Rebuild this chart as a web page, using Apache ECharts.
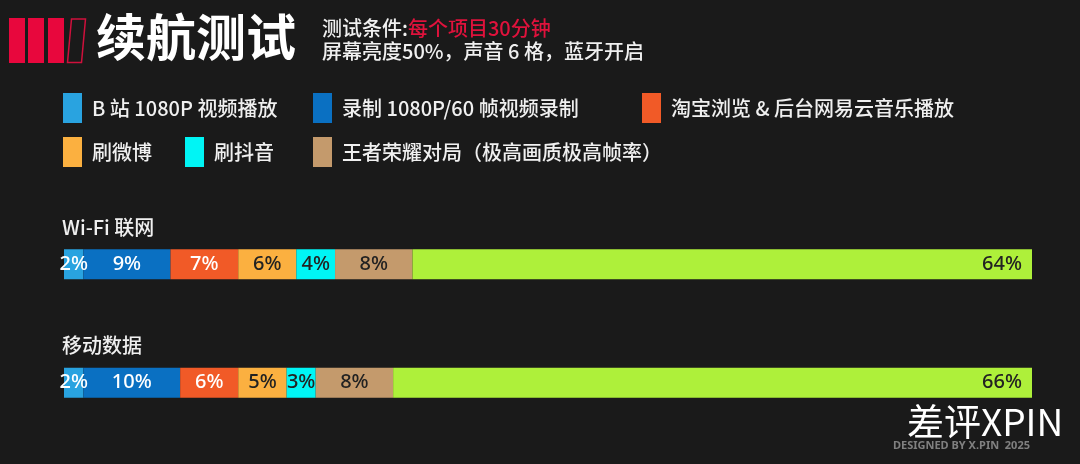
<!DOCTYPE html>
<html>
<head>
<meta charset="utf-8">
<script src="https://cdn.jsdelivr.net/npm/echarts@6/dist/echarts.min.js"></script>
<style>
html,body{margin:0;padding:0;background:#1a1a1a;}
#chart{width:1080px;height:464px;}
</style>
</head>
<body>
<div id="chart"></div>
<script>
const categories = ['Wi-Fi 联网', '移动数据'];
const seriesNames = ['B 站 1080P 视频播放', '录制 1080P/60 帧视频录制', '淘宝浏览 & 后台网易云音乐播放', '刷微博', '刷抖音', '王者荣耀对局（极高画质极高帧率）', '剩余电量'];
const bilibili = [2, 2];
const recording = [9, 10];
const taobao = [7, 6];
const weibo = [6, 5];
const douyin = [4, 3];
const honorOfKings = [8, 8];
const remaining = [64, 66];
const seriesValues = [bilibili, recording, taobao, weibo, douyin, honorOfKings, remaining];

const colors = ['#29a3e0', '#0a70c2', '#f15a27', '#fbb040', '#00f5f5', '#c49a6c', '#aef03a'];
const labelColors = ['#ffffff', '#ffffff', '#ffffff', '#222222', '#222222', '#222222', '#222222'];

const chart = echarts.init(document.getElementById('chart'));

const legendPos = [
  {left: 63, top: 93}, {left: 313, top: 93}, {left: 642, top: 93},
  {left: 63, top: 137}, {left: 185, top: 137}, {left: 313, top: 137}
];
const legends = legendPos.map((p, i) => ({
  data: [seriesNames[i]],
  left: p.left, top: p.top,
  padding: 0,
  orient: 'horizontal',
  icon: 'rect',
  itemWidth: 19, itemHeight: 30,
  selectedMode: false,
  textStyle: {color: '#f0f0f0', fontSize: 20, fontWeight: 500, fontFamily: 'Noto Sans CJK SC', padding: [0, 0, 0, 5]}
}));

const series = seriesNames.map((name, i) => ({
  name: name,
  type: 'bar',
  stack: 'total',
  barWidth: 30,
  data: seriesValues[i],
  itemStyle: {color: colors[i]},
  label: {
    show: true,
    position: i === seriesNames.length - 1 ? 'insideRight' : 'inside',
    distance: 10,
    formatter: '{c}%',
    color: labelColors[i],
    fontSize: 20,
    fontWeight: 500,
    fontFamily: 'Noto Sans',
    padding: [3, 0, 0, 0]
  },
  emphasis: {disabled: true}
}));

const option = {
  backgroundColor: '#1a1a1a',
  animation: false,
  legend: legends,
  grid: {left: 64, right: 48, top: 205, height: 237},
  xAxis: {type: 'value', min: 0, max: 100, show: false},
  yAxis: {
    type: 'category',
    data: categories,
    inverse: true,
    axisLine: {show: false},
    axisTick: {show: false},
    axisLabel: {
      inside: true,
      margin: -2,
      align: 'left',
      verticalAlign: 'bottom',
      padding: [0, 0, 27, 0],
      color: '#f0f0f0',
      fontSize: 20,
      fontWeight: 500,
      fontFamily: 'Noto Sans CJK SC'
    }
  },
  series: series,
  graphic: [
    {type: 'rect', shape: {x: 9, y: 18, width: 16, height: 45}, style: {fill: '#e8073d'}},
    {type: 'rect', shape: {x: 28, y: 18, width: 16, height: 45}, style: {fill: '#e8073d'}},
    {type: 'rect', shape: {x: 48, y: 18, width: 16, height: 45}, style: {fill: '#e8073d'}},
    {type: 'polygon', shape: {points: [[71.5, 19], [85.5, 19], [81.5, 62.5], [67.5, 62.5]]}, style: {fill: 'none', stroke: '#d0103c', lineWidth: 1.5}},
    {type: 'text', left: 96, top: 12, style: {text: '续航测试', fill: '#ffffff', font: 'bold 50px "Noto Sans CJK SC"'}},
    {type: 'text', left: 322, top: 18, style: {
      text: '{w|测试条件:}{r|每个项目30分钟}',
      rich: {
        w: {fill: '#f0f0f0', fontSize: 20, fontWeight: 500, fontFamily: 'Noto Sans CJK SC'},
        r: {fill: '#e0123c', fontSize: 20, fontWeight: 500, fontFamily: 'Noto Sans CJK SC'}
      }
    }},
    {type: 'text', left: 322, top: 41, style: {text: '屏幕亮度50%，声音 6 格，蓝牙开启', fill: '#f0f0f0', font: '500 20px "Noto Sans CJK SC"'}},
    {type: 'text', left: 907, top: 403, style: {text: '差评XPIN', fill: '#ffffff', font: '37px "Noto Sans CJK SC"'}},
    {type: 'text', left: 893, top: 440, style: {text: 'DESIGNED BY X.PIN  2025', fill: '#808080', font: 'bold 11px "Noto Sans"'}}
  ]
};
chart.setOption(option);
</script>
</body>
</html>
